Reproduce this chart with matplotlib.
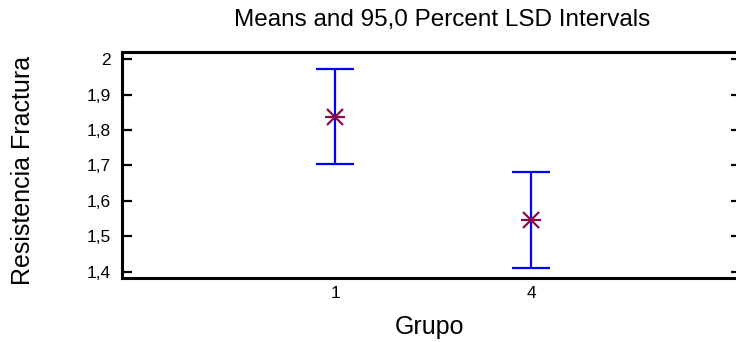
import matplotlib
matplotlib.use('Agg')
import matplotlib.pyplot as plt
from matplotlib.ticker import FuncFormatter

plt.rcParams['font.family'] = ['Liberation Sans', 'DejaVu Sans']

groups = ['1', '4']
means = [1.838, 1.545]
half_width = [0.134, 0.136]
yticks = [1.4, 1.5, 1.6, 1.7, 1.8, 1.9, 2.0]

W, H = 736, 342
fig = plt.figure(figsize=(W / 100, H / 100), dpi=100)
left, right, top, bottom = 122, 741, 51.5, 278
ax = fig.add_axes([left / W, (H - bottom) / H, (right - left) / W, (bottom - top) / H])

x = list(range(len(groups)))
ax.errorbar(x, means, yerr=half_width, fmt='none', ecolor='#0000ff',
            elinewidth=1.6, capsize=13.5, capthick=1.6, zorder=2)
ax.plot(x, means, linestyle='none', marker='x', markersize=11, markeredgewidth=1.6,
        color='#8b0a4a', zorder=3)
ax.plot(x, means, linestyle='none', marker='_', markersize=14, markeredgewidth=1.6,
        color='#8b0a4a', zorder=3)

ax.set_xlim(-1.087, 2.071)
ax.set_ylim(1.382, 2.022)
ax.set_xticks(x)
ax.set_xticklabels(groups)
ax.set_yticks(yticks)
ax.yaxis.set_major_formatter(FuncFormatter(lambda v, p: ('%g' % round(v, 1)).replace('.', ',')))

for s in ['left', 'top', 'bottom']:
    ax.spines[s].set_linewidth(2.2)
ax.spines['right'].set_visible(False)
ax.tick_params(axis='y', direction='in', length=7.5, width=1.6, labelsize=12.5,
               right=True, pad=8)
ax.tick_params(axis='x', length=0, labelsize=12.5, pad=6)

fig.text(430 / W, (H - 327) / H, 'Grupo', ha='center', va='center', fontsize=18)
fig.text(23 / W, (H - 170) / H, 'Resistencia Fractura', rotation=90,
         ha='center', va='center', fontsize=18)
fig.text(442 / W, (H - 20) / H, 'Means and 95,0 Percent LSD Intervals',
         ha='center', va='center', fontsize=17.5)

fig.savefig('out.png', dpi=100)
